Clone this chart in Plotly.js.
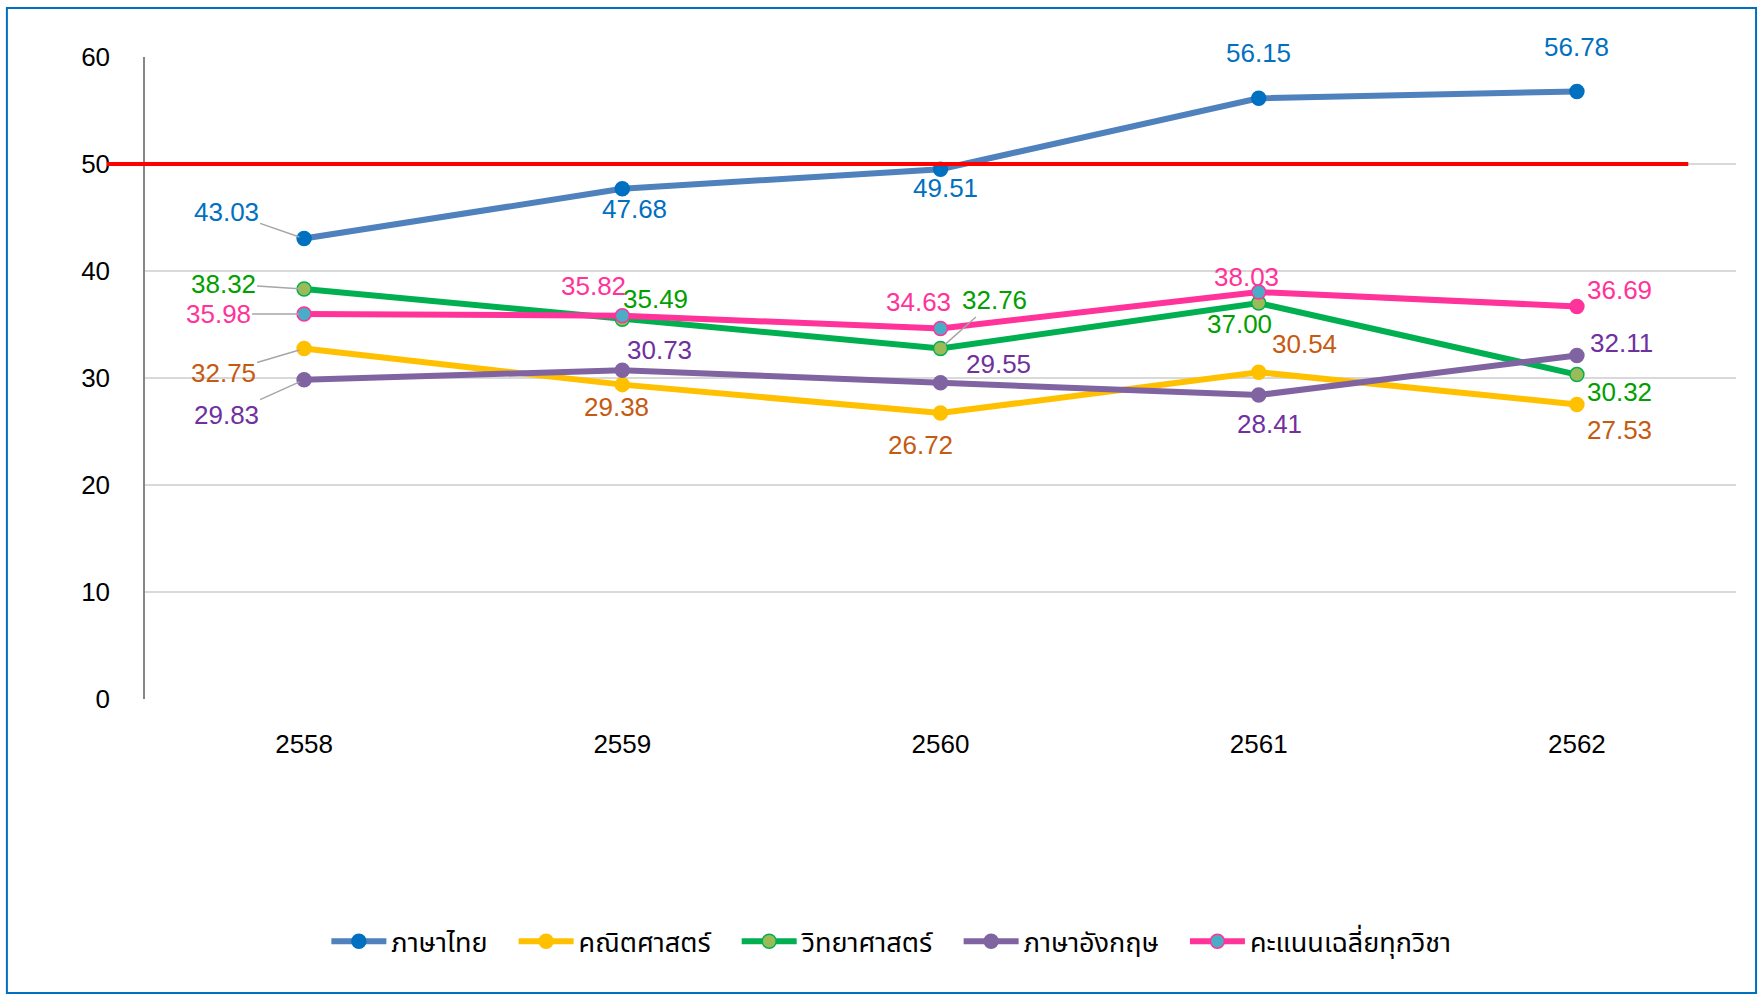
<!DOCTYPE html>
<html>
<head>
<meta charset="utf-8">
<script src="https://cdn.plot.ly/plotly-3.0.1.min.js"></script>
<style>
  body { margin: 0; background: #fff; }
  #plot { width: 1764px; height: 998px; }
</style>
</head>
<body>
<div id="plot"></div>
<script>
// years (Buddhist era)
const years = ['2558', '2559', '2560', '2561', '2562'];

const thai = [43.03, 47.68, 49.51, 56.15, 56.78];
const math = [32.75, 29.38, 26.72, 30.54, 27.53];
const science = [38.32, 35.49, 32.76, 37.00, 30.32];
const english = [29.83, 30.73, 29.55, 28.41, 32.11];
const average = [35.98, 35.82, 34.63, 38.03, 36.69];

const passLine = 50;
const yTicks = [0, 10, 20, 30, 40, 50, 60];

const numFont = 'Liberation Sans, Arial, sans-serif';
const thaiFont = 'Noto Sans Thai, Liberation Sans, sans-serif';
const gap = '\u00a0\u00a0\u00a0';

// label offsets in pixels [dx, dy] (dy down is positive), third item = leader line
const thaiPos = [[-78, -27, 1], [12, 20], [5, 19], [0, -45], [0, -44]];
const mathPos = [[-81, 24, 1], [-6, 22], [-20, 32], [46, -28], [43, 26]];
const sciPos = [[-81, -5, 1], [33, -20], [54, -48, 1], [-19, 21], [43, 17]];
const engPos = [[-78, 35, 1], [37, -20], [58, -19], [11, 29], [45, -12]];
const avgPos = [[-86, 0, 1], [-29, -30], [-22, -26], [-12, -15], [43, -16]];

function series(name, vals, lineColor, markerColor, markerLine) {
    return {
        name: name,
        x: [0, 1, 2, 3, 4],
        y: vals,
        type: 'scatter',
        mode: 'lines+markers',
        line: { color: lineColor, width: 6 },
        marker: {
            size: 14,
            color: markerColor,
            line: { color: markerLine || markerColor, width: 1.5 }
        }
    };
}

let data = [
    series('ภาษาไทย' + gap, thai, '#4F81BD', '#0070C0'),
    series('คณิตศาสตร์' + gap, math, '#FFC000', '#FFC000'),
    series('วิทยาศาสตร์' + gap, science, '#00B050', '#9BBB59', '#00B050'),
    series('ภาษาอังกฤษ' + gap, english, '#8064A2', '#8064A2'),
    series('คะแนนเฉลี่ยทุกวิชา', average, '#FF3399',
        ['#4BACC6', '#4BACC6', '#4BACC6', '#4BACC6', '#FF3399'], '#FF3399')
];

let annotations = [];
function addLabels(vals, pos, color) {
    for (let i = 0; i < vals.length; i++) {
        let p = pos[i];
        let a = {
            x: i,
            y: vals[i],
            xref: 'x',
            yref: 'y',
            text: vals[i].toFixed(2),
            font: { family: numFont, size: 26, color: color }
        };
        if (p.length > 2) {
            a.showarrow = true;
            a.ax = p[0];
            a.ay = p[1];
            a.arrowhead = 0;
            a.arrowwidth = 1.5;
            a.arrowcolor = '#A6A6A6';
            a.standoff = 5;
        } else {
            a.showarrow = false;
            a.xshift = p[0];
            a.yshift = -p[1];
        }
        annotations.push(a);
    }
}
addLabels(thai, thaiPos, '#0070C0');
addLabels(math, mathPos, '#C55A11');
addLabels(science, sciPos, '#00A000');
addLabels(english, engPos, '#7030A0');
addLabels(average, avgPos, '#FF3399');

let layout = {
    width: 1764,
    height: 998,
    margin: { l: 145, r: 28, t: 57, b: 299 },
    paper_bgcolor: '#ffffff',
    plot_bgcolor: '#ffffff',
    showlegend: true,
    font: { family: numFont, size: 26, color: '#000' },
    xaxis: {
        range: [-0.5, 4.5],
        tickvals: [0, 1, 2, 3, 4],
        ticktext: years,
        showgrid: false,
        zeroline: false,
        showline: false,
        ticks: '',
        ticklabelstandoff: 27,
        tickfont: { family: numFont, size: 26, color: '#000' },
        fixedrange: true
    },
    yaxis: {
        range: [0, 60],
        tickvals: yTicks,
        showgrid: true,
        gridcolor: '#D9D9D9',
        gridwidth: 1.5,
        zeroline: false,
        showline: true,
        linecolor: '#868686',
        linewidth: 1.5,
        ticks: '',
        ticklabelstandoff: 28,
        tickfont: { family: numFont, size: 26, color: '#000' },
        fixedrange: true
    },
    legend: {
        orientation: 'h',
        x: 0.114,
        xanchor: 'left',
        y: -0.378,
        yanchor: 'middle',
        font: { family: thaiFont, size: 27, color: '#000' },
        itemwidth: 55,
        traceorder: 'normal'
    },
    shapes: [
        {
            type: 'line',
            xref: 'paper',
            yref: 'y',
            x0: -0.024,
            x1: 0.970,
            y0: passLine,
            y1: passLine,
            line: { color: '#FF0000', width: 4 }
        },
        {
            type: 'rect',
            xref: 'paper',
            yref: 'paper',
            x0: -0.0868,
            x1: 1.0126,
            y0: -0.458,
            y1: 1.0763,
            line: { color: '#0070C0', width: 2 },
            fillcolor: 'rgba(0,0,0,0)'
        }
    ],
    annotations: annotations
};

Plotly.newPlot(document.getElementById('plot'), data, layout, { displayModeBar: false });
</script>
</body>
</html>
